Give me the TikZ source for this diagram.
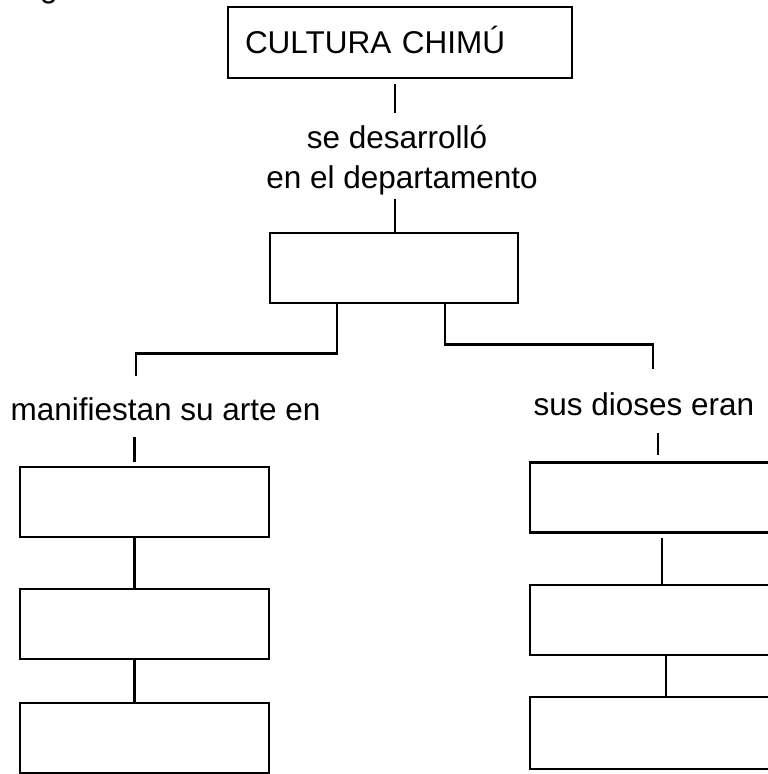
\documentclass[tikz,border=0pt]{standalone}
\usepackage{fontspec}
\setmainfont{Liberation Sans}
\usetikzlibrary{calc}
\tikzset{
  box/.style={draw, line width=2.6pt, minimum width=249, minimum height=70, inner sep=0},
  lbl/.style={font=\fontsize{31.5}{40}\selectfont, inner sep=0, anchor=base},
  conn/.style={line width=2.4pt}
}
\begin{document}
\begin{tikzpicture}[x=1pt,y=-1pt]
\useasboundingbox[fill=white] (0,0) rectangle (768,774);
% cut-off fragment at top
\node[lbl, anchor=base west] (frag) at (40,-2.5) {g};
% top box
\node[box, minimum width=344, minimum height=71, text width=310, inner xsep=17, align=left,
      text height=22, text depth=0, font=\fontsize{31.5}{40}\selectfont] (top) at (400,42.5) {CULTURA CHIMÚ};
\node[lbl] (lab1a) at (397,148) {se desarrolló};
\node[lbl] (lab1b) at (402,188) {en el departamento};
\node[box, minimum width=248] (mid) at (394,268) {};
\node[lbl] (labL) at (165.5,420) {manifiestan su arte en};
\node[lbl] (labR) at (644,415) {sus dioses eran};
\node[box] (L1) at (144.5,502) {};
\node[box] (L2) at (144.5,624) {};
\node[box] (L3) at (144.5,738) {};
\node[box, minimum width=250] (R1) at (655,497.5) {};
\node[box, minimum width=250] (R2) at (655,620) {};
\node[box, minimum width=250, minimum height=72] (R3) at (655,733) {};
% connectors
\draw[conn] (top.south -| mid.north) ++(1,5) -- ++(0,29);
\draw[conn] (lab1b.south -| mid.north) ++(1,4) -- ([xshift=1pt]mid.north);
\draw[conn] ([xshift=-57pt]mid.south) -- ++(0,49) -| ++(-201,23);
\draw[conn] ([xshift=51pt]mid.south) -- ++(0,40) -| ++(208,25);
\draw[conn] ([xshift=-10pt]L1.north) ++(0,-4) -- ++(0,-25);
\draw[conn] ([xshift=-10pt]L1.south) -- ([xshift=-10pt]L2.north);
\draw[conn] ([xshift=-10pt]L2.south) -- ([xshift=-10pt]L3.north);
\draw[conn] ([xshift=3pt]R1.north) ++(0,-6) -- ++(0,-22);
\draw[conn] ([xshift=7pt]R1.south) ++(0,4) -- ([xshift=7pt]R2.north);
\draw[conn] ([xshift=11pt]R2.south) -- ([xshift=11pt]R3.north);
\end{tikzpicture}
\end{document}
